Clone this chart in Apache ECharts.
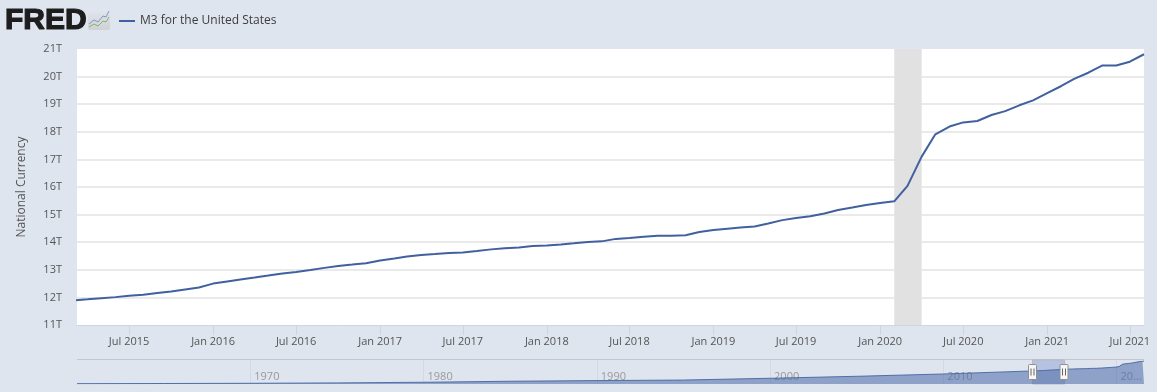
<!DOCTYPE html>
<html>
<head>
<meta charset="utf-8">
<title>M3 for the United States</title>
<script src="https://cdn.jsdelivr.net/npm/echarts@6/dist/echarts.min.js"></script>
<style>
  html, body { margin: 0; padding: 0; background: #dfe5ef; }
  #chart { width: 1157px; height: 392px; }
</style>
</head>
<body>
<div id="chart"></div>
<script>
// M3, trillions, monthly from Mar 2015 to Aug 2021
const m3Values = [
  11.89, 11.93, 11.97, 12.01, 12.06, 12.10, 12.16, 12.21, 12.29, 12.36,
  12.50, 12.58, 12.65, 12.72, 12.79, 12.87, 12.92, 12.99, 13.07, 13.14, 13.19, 13.24,
  13.34, 13.41, 13.48, 13.54, 13.57, 13.61, 13.63, 13.68, 13.74, 13.78, 13.81, 13.86,
  13.88, 13.92, 13.96, 14.01, 14.03, 14.12, 14.15, 14.20, 14.23, 14.23, 14.25, 14.37,
  14.44, 14.49, 14.53, 14.57, 14.68, 14.80, 14.88, 14.94, 15.04, 15.17, 15.26, 15.35,
  15.42, 15.48, 16.04, 17.10, 17.91, 18.19, 18.34, 18.39, 18.61, 18.75, 18.96, 19.14,
  19.40, 19.66, 19.92, 20.14, 20.40, 20.40, 20.54, 20.81,
];
const yTicks = [11, 21];
const xTickDates = [
  '2015-07-01', '2016-01-01', '2016-07-01', '2017-01-01', '2017-07-01', '2018-01-01',
  '2018-07-01', '2019-01-01', '2019-07-01', '2020-01-01', '2020-07-01', '2021-01-01', '2021-07-01',
];
const viewRange = ['2015-03-09', '2021-08-01'];
const recession = ['2020-02-01', '2020-04-01'];

// overview strip: long history before the monthly part starts
const navDates = ['1960-01-01', '1965-01-01', '1970-01-01', '1975-01-01', '1980-01-01', '1985-01-01',
  '1990-01-01', '1995-01-01', '2000-01-01', '2005-01-01', '2010-01-01'];
const navValues = [0.3, 0.45, 0.65, 1.0, 1.6, 2.5, 3.1, 3.6, 5.2, 7.0, 9.1];
const navRange = ['1960-01-01', '2021-08-01'];
const navTickYears = ['1970-01-01', '1980-01-01', '1990-01-01', '2000-01-01', '2010-01-01', '2020-01-01'];
const navSelection = ['2015-02-25', '2017-01-01'];

const MONTHS = ['Jan', 'Feb', 'Mar', 'Apr', 'May', 'Jun', 'Jul', 'Aug', 'Sep', 'Oct', 'Nov', 'Dec'];
const FONT = '"Open Sans", "Noto Sans", sans-serif';
const LINE = '#41609f';
const ts = s => Date.parse(s);

const m3Data = m3Values.map((v, i) => [Date.UTC(2015, 2 + i, 1), v]);
const navData = navDates.map((d, i) => [ts(d), navValues[i]]).concat(m3Data);

const chart = echarts.init(document.getElementById('chart'), null, { renderer: 'canvas' });

// navigator grip, z has to sit on each child or the area series paints over it
function handle(cx) {
  return {
    type: 'group', x: cx, y: 364.5,
    children: [
      { type: 'rect', z: 100, shape: { x: -4, y: 0, width: 8, height: 15, r: 1 }, style: { fill: '#f6f6f6', stroke: '#8f8f8f', lineWidth: 1 } },
      { type: 'line', z: 101, shape: { x1: -1.5, y1: 4, x2: -1.5, y2: 11 }, style: { stroke: '#666', lineWidth: 1 } },
      { type: 'line', z: 101, shape: { x1: 1.5, y1: 4, x2: 1.5, y2: 11 }, style: { stroke: '#666', lineWidth: 1 } },
    ],
  };
}

chart.setOption({
  animation: false,
  backgroundColor: '#dfe5ef',
  textStyle: { fontFamily: FONT },
  legend: {
    left: 119, top: 15, padding: 0, icon: 'rect', itemWidth: 16, itemHeight: 2,
    data: ['M3 for the United States'],
    textStyle: { color: '#3c3c3c', fontSize: 12, fontFamily: FONT },
  },
  grid: [
    { left: 77, right: 13, top: 49, height: 276, show: true, backgroundColor: '#fff', borderWidth: 0 },
    { left: 77, right: 13, top: 360, height: 24 },
  ],
  // plain value axes holding timestamps: customValues does not work on a time axis
  xAxis: [
    {
      type: 'value', gridIndex: 0, min: ts(viewRange[0]), max: ts(viewRange[1]),
      axisLine: { lineStyle: { color: '#ccd6eb', width: 1 } },
      axisTick: { length: 10, lineStyle: { color: '#ccd6eb' }, customValues: xTickDates.map(ts) },
      axisLabel: {
        color: '#555', fontSize: 11, margin: 11, hideOverlap: false, showMinLabel: true, showMaxLabel: true,
        customValues: xTickDates.map(ts),
        formatter: v => { const d = new Date(v); return `${MONTHS[d.getUTCMonth()]} ${d.getUTCFullYear()}`; },
      },
      splitLine: { show: false },
    },
    {
      type: 'value', gridIndex: 1, min: ts(navRange[0]), max: ts(navRange[1]), z: 0,
      axisLine: { show: false },
      axisTick: { show: true, inside: true, length: 24, lineStyle: { color: '#d3d8e2' }, customValues: navTickYears.map(ts) },
      axisLabel: {
        inside: true, color: '#999', fontSize: 11, margin: 2, align: 'left', padding: [0, 0, 0, 4],
        customValues: navTickYears.map(ts),
        formatter: v => { const y = new Date(v).getUTCFullYear(); return y === 2020 ? '20...' : String(y); },
      },
      splitLine: { show: false },
    },
  ],
  yAxis: [
    {
      type: 'value', gridIndex: 0, min: yTicks[0], max: yTicks[1], interval: 1,
      name: 'National Currency', nameLocation: 'middle', nameGap: 49,
      nameTextStyle: { color: '#555', fontSize: 12, fontFamily: FONT },
      axisLine: { show: false }, axisTick: { show: false },
      axisLabel: { color: '#555', fontSize: 11, margin: 15, formatter: v => `${v}T` },
      splitLine: { show: true, showMinLine: false, showMaxLine: false, lineStyle: { color: '#e3e3e3', width: 1.5 } },
    },
    {
      type: 'value', gridIndex: 1, min: 0, max: 21.8,
      axisLine: { show: false }, axisTick: { show: false }, axisLabel: { show: false }, splitLine: { show: false },
    },
  ],
  series: [
    {
      name: 'M3 for the United States', type: 'line', xAxisIndex: 0, yAxisIndex: 0,
      data: m3Data, symbol: 'none', smooth: false, z: 5,
      lineStyle: { color: LINE, width: 2 }, itemStyle: { color: LINE },
      markArea: {
        silent: true, itemStyle: { color: '#e1e1e1', opacity: 1 },
        data: [[{ xAxis: ts(recession[0]) }, { xAxis: ts(recession[1]) }]],
      },
    },
    {
      name: 'overview', type: 'line', xAxisIndex: 1, yAxisIndex: 1,
      data: navData, symbol: 'none', z: 5,
      lineStyle: { color: LINE, width: 1, opacity: 0.85 }, itemStyle: { color: LINE },
      areaStyle: { color: '#4a6aa8', opacity: 0.55, origin: 'start' },
      markArea: {
        silent: true, itemStyle: { color: 'rgba(90,115,190,0.3)', borderColor: '#b5b9c2', borderWidth: 1 },
        data: [[{ xAxis: ts(navSelection[0]) }, { xAxis: ts(navSelection[1]) }]],
      },
    },
  ],
  graphic: [
    { type: 'line', shape: { x1: 77, y1: 359.5, x2: 1144, y2: 359.5 }, style: { stroke: '#c4c6ca', lineWidth: 1 } },
    // FRED logo
    {
      type: 'text', x: 5, y: 6,
      style: { text: 'FRED', fill: '#1d1d1d', stroke: '#1d1d1d', lineWidth: 1.2, font: '900 30px "Liberation Sans", sans-serif' },
    },
    {
      type: 'rect', shape: { x: 88, y: 9, width: 22, height: 21, r: 2 },
      style: { fill: new echarts.graphic.LinearGradient(0, 0, 0, 1, [{ offset: 0, color: '#e2e7ef' }, { offset: 1, color: '#cfd1d3' }]) },
    },
    { type: 'polyline', shape: { points: [[89, 24], [94, 20], [98, 22], [103, 16], [106, 17], [109, 11]] }, style: { stroke: '#7d98bd', fill: 'none', lineWidth: 1 } },
    { type: 'polyline', shape: { points: [[89, 27], [94, 24], [98, 26], [103, 21], [106, 22], [109, 17]] }, style: { stroke: '#83b36e', fill: 'none', lineWidth: 1 } },
    handle(1032.5),
    handle(1064),
  ],
});
</script>
</body>
</html>
